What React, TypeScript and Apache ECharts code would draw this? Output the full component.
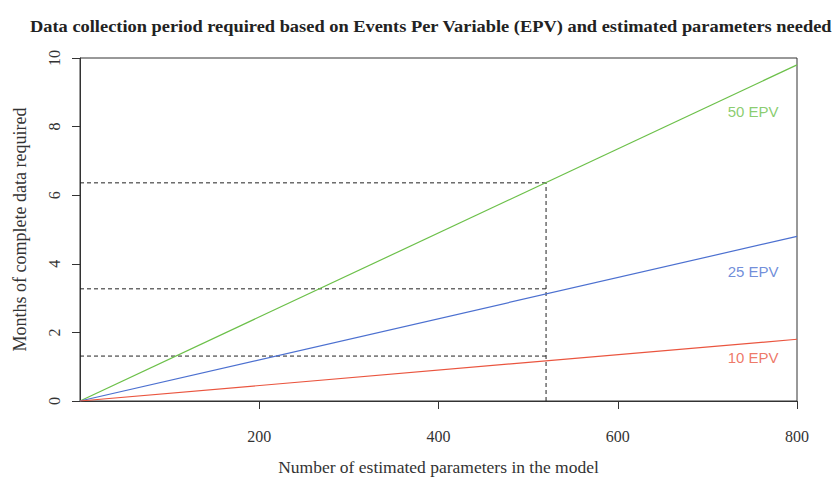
import React, { useEffect, useRef } from "react";
import * as echarts from "echarts";

const title =
  "Data collection period required based on Events Per Variable (EPV) and estimated parameters needed";
const seriesNames = ["50 EPV", "25 EPV", "10 EPV"];
const xStart = [0, 0, 0];
const xEnd = [800, 800, 800];
const yStart = [0, 0, 0];
const yEnd = [9.8, 4.8, 1.8];
const colors = ["#6cc04a", "#4c70d0", "#ea553f"];
const labelX = [751, 751, 751];
const labelY = [8.43, 3.79, 1.28];
const refX = 520;
const refY = [6.36, 3.27, 1.31];
const xTicks = [200, 400, 600, 800];
const yTicks = [0, 2, 4, 6, 8, 10];

export default function App() {
  const ref = useRef<HTMLDivElement>(null);
  useEffect(() => {
    if (!ref.current) return;
    const chart = echarts.init(ref.current, undefined, { renderer: "svg" });
    const serif = "Liberation Serif";
    const lines = seriesNames.map((n, i) => ({
      type: "line",
      name: n,
      data: [
        [xStart[i], yStart[i]],
        [xEnd[i], yEnd[i]],
      ],
      showSymbol: false,
      lineStyle: { color: colors[i], width: 1.2 },
      z: 3,
    }));
    const refLines = refY.map((v) => ({
      type: "line",
      data: [
        [0, v],
        [refX, v],
      ],
      showSymbol: false,
      lineStyle: { color: "#222", width: 1, type: [4, 3] },
      z: 2,
    }));
    const vert = {
      type: "line",
      data: [
        [refX, 0],
        [refX, refY[0]],
      ],
      showSymbol: false,
      lineStyle: { color: "#222", width: 1, type: [4, 3] },
      z: 2,
    };
    const labels = {
      type: "scatter",
      symbolSize: 0,
      data: seriesNames.map((n, i) => ({
        value: [labelX[i], labelY[i]],
        name: n,
        label: {
          show: true,
          formatter: n,
          position: "inside",
          color: colors[i],
          fontFamily: "Liberation Sans",
          fontSize: 15,
        },
      })),
      z: 4,
    };
    chart.setOption({
      animation: false,
      backgroundColor: "#ffffff",
      graphic: [
        {
          type: "text",
          x: 30,
          y: 27,
          scaleX: 1.15,
          style: {
            text: title,
            fontFamily: serif,
            fontWeight: "bold",
            fontSize: 16,
            fill: "#222",
            textVerticalAlign: "middle",
          },
        },
      ],
      grid: {
        left: 80,
        right: 37,
        top: 58,
        bottom: 76,
        outerBoundsMode: "none",
        containLabel: false,
        show: true,
        borderColor: "#333",
        borderWidth: 1,
        backgroundColor: "transparent",
      },
      xAxis: {
        type: "value",
        min: 0,
        max: 800,
        interval: 200,
        name: "Number of estimated parameters in the model",
        nameLocation: "middle",
        nameGap: 57,
        nameTextStyle: { fontFamily: serif, fontSize: 17.5, color: "#333" },
        axisLine: { show: true, lineStyle: { color: "#333" } },
        axisTick: {
          show: true,
          length: 8,
          customValues: xTicks,
          lineStyle: { color: "#333" },
        },
        axisLabel: {
          customValues: xTicks,
          margin: 27,
          fontFamily: serif,
          fontSize: 16,
          color: "#333",
        },
        splitLine: { show: false },
      },
      yAxis: {
        type: "value",
        min: 0,
        max: 10,
        interval: 2,
        name: "Months of complete data required",
        nameLocation: "middle",
        nameGap: 51,
        nameTextStyle: { fontFamily: serif, fontSize: 18, color: "#333" },
        axisLine: { show: true, lineStyle: { color: "#333" } },
        axisTick: {
          show: true,
          length: 8,
          customValues: yTicks,
          lineStyle: { color: "#333" },
        },
        axisLabel: {
          rotate: 90,
          margin: 18,
          fontFamily: serif,
          fontSize: 16,
          color: "#333",
        },
        splitLine: { show: false },
      },
      series: [...lines, ...refLines, vert, labels],
    });
    return () => chart.dispose();
  }, []);
  return <div ref={ref} style={{ width: 834, height: 477, position: "absolute", left: 0, top: 0 }} />;
}
